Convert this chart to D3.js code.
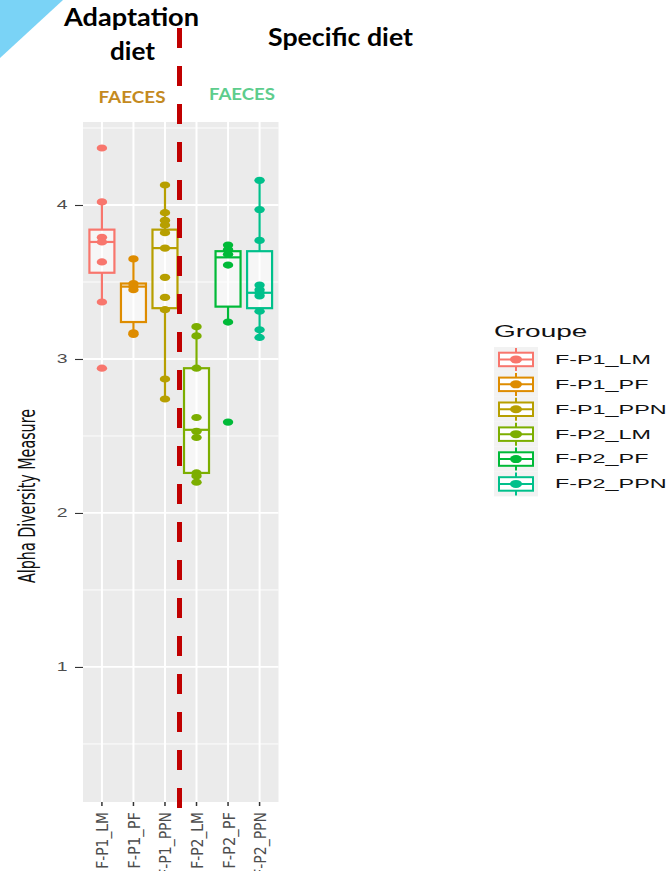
<!DOCTYPE html>
<meta charset="utf-8">
<script src="https://d3js.org/d3.v7.min.js"></script>
<style>
  body { margin: 0; background: #fff; font-family: 'Liberation Sans', Arial, sans-serif; }
</style>
<div id="chart"></div>
<script>
  // groups on the x axis
  var groups = ["F-P1_LM", "F-P1_PF", "F-P1_PPN", "F-P2_LM", "F-P2_PF", "F-P2_PPN"];
  var colors = ["#F8766D", "#DE8C00", "#B79F00", "#7CAE00", "#00BA38", "#00C08B"];

  var pointsLM1  = [4.37, 4.02, 3.79, 3.76, 3.63, 3.37, 2.94];
  var pointsPF1  = [3.65, 3.49, 3.47, 3.45, 3.17, 3.16];
  var pointsPPN1 = [4.13, 3.95, 3.90, 3.87, 3.82, 3.72, 3.53, 3.40, 3.32, 2.87, 2.74];
  var pointsLM2  = [3.21, 3.15, 2.94, 2.62, 2.53, 2.49, 2.26, 2.24, 2.20];
  var pointsPF2  = [3.74, 3.71, 3.68, 3.61, 3.24, 2.59];
  var pointsPPN2 = [4.16, 3.97, 3.77, 3.48, 3.45, 3.43, 3.41, 3.31, 3.19, 3.14];
  var allPoints = [pointsLM1, pointsPF1, pointsPPN1, pointsLM2, pointsPF2, pointsPPN2];

  // box statistics per group
  var whiskLo = [3.37, 3.16, 2.74, 2.20, 3.24, 3.14];
  var q1      = [3.56, 3.24, 3.33, 2.26, 3.34, 3.33];
  var median  = [3.76, 3.47, 3.72, 2.54, 3.66, 3.43];
  var q3      = [3.84, 3.49, 3.84, 2.94, 3.70, 3.70];
  var whiskHi = [4.02, 3.65, 4.13, 3.21, 3.74, 4.16];

  var yTicks = [1, 2, 3, 4];
  var yMinor = [0.5, 1.5, 2.5, 3.5, 4.5];

  var W = 668, H = 871;
  var panel = {left: 83, right: 278.5, top: 122, bottom: 802};

  var svg = d3.select("#chart").append("svg")
    .attr("width", W).attr("height", H);

  // corner decoration
  svg.append("path").attr("d", "M0,0 L63,0 L0,58 Z").attr("fill", "#7AD3F6");

  var x = d3.scalePoint().domain(groups).range([panel.left, panel.right]).padding(0.6);
  var y = d3.scaleLinear().domain([0.123, 4.539]).range([panel.bottom, panel.top]);
  var color = d3.scaleOrdinal().domain(groups).range(colors);

  // panel background + grid
  svg.append("rect")
    .attr("x", panel.left).attr("y", panel.top)
    .attr("width", panel.right - panel.left).attr("height", panel.bottom - panel.top)
    .attr("fill", "#EBEBEB");

  svg.selectAll(".minor").data(yMinor.filter(function(v){ return y(v) > panel.top; })).enter()
    .append("line")
    .attr("x1", panel.left).attr("x2", panel.right)
    .attr("y1", function(d){ return y(d); }).attr("y2", function(d){ return y(d); })
    .attr("stroke", "#fff").attr("stroke-width", 0.9);
  svg.selectAll(".major").data(yTicks).enter()
    .append("line")
    .attr("x1", panel.left).attr("x2", panel.right)
    .attr("y1", function(d){ return y(d); }).attr("y2", function(d){ return y(d); })
    .attr("stroke", "#fff").attr("stroke-width", 1.8);
  svg.selectAll(".vgrid").data(groups).enter()
    .append("line")
    .attr("x1", function(d){ return x(d); }).attr("x2", function(d){ return x(d); })
    .attr("y1", panel.top).attr("y2", panel.bottom)
    .attr("stroke", "#fff").attr("stroke-width", 2);

  // y axis
  var yAxis = svg.append("g")
    .attr("transform", "translate(" + panel.left + ",0)")
    .call(d3.axisLeft(y).tickValues(yTicks).tickSize(8).tickPadding(7).tickFormat(d3.format("d")));
  yAxis.select(".domain").remove();
  yAxis.selectAll(".tick line").attr("stroke", "#333").attr("stroke-width", 1.1);
  yAxis.selectAll(".tick text")
    .attr("fill", "#4D4D4D").style("font-size", "12.5px")
    .attr("transform", "scale(1.55,1)")
    .attr("x", -10);

  svg.append("text")
    .attr("transform", "translate(35,496) rotate(-90)")
    .attr("text-anchor", "middle")
    .attr("textLength", 174).attr("lengthAdjust", "spacingAndGlyphs")
    .style("font-family", "'Liberation Sans Narrow', 'DejaVu Sans Condensed', sans-serif")
    .style("font-size", "23px").attr("fill", "#111")
    .text("Alpha Diversity Measure");

  // x axis ticks + labels
  svg.selectAll(".xtick").data(groups).enter()
    .append("line")
    .attr("x1", function(d){ return x(d); }).attr("x2", function(d){ return x(d); })
    .attr("y1", panel.bottom).attr("y2", panel.bottom + 4)
    .attr("stroke", "#333").attr("stroke-width", 1.5);
  svg.selectAll(".xlab").data(groups).enter()
    .append("text")
    .attr("transform", function(d){ return "translate(" + (x(d) + 1) + "," + (panel.bottom + 10) + ") rotate(-90)"; })
    .attr("text-anchor", "end").attr("dominant-baseline", "central")
    .attr("textLength", function(d){ return d.length * 8.1; }).attr("lengthAdjust", "spacingAndGlyphs")
    .style("font-family", "'Liberation Sans Narrow', 'DejaVu Sans Condensed', sans-serif")
    .style("font-size", "16px").attr("fill", "#4D4D4D")
    .text(function(d){ return d; });

  // boxplots
  var bw = 25;
  var boxes = svg.selectAll(".box").data(groups).enter().append("g")
    .attr("stroke", function(d){ return color(d); })
    .attr("stroke-width", 2.2).attr("fill", "none");
  boxes.append("line")
    .attr("x1", function(d){ return x(d); }).attr("x2", function(d){ return x(d); })
    .attr("y1", function(d, i){ return y(whiskHi[i]); }).attr("y2", function(d, i){ return y(q3[i]); });
  boxes.append("line")
    .attr("x1", function(d){ return x(d); }).attr("x2", function(d){ return x(d); })
    .attr("y1", function(d, i){ return y(q1[i]); }).attr("y2", function(d, i){ return y(whiskLo[i]); });
  boxes.append("rect")
    .attr("x", function(d){ return x(d) - bw / 2; }).attr("width", bw)
    .attr("y", function(d, i){ return y(q3[i]); })
    .attr("height", function(d, i){ return y(q1[i]) - y(q3[i]); })
    .attr("fill", "#fff").attr("fill-opacity", 0.55);
  boxes.append("line")
    .attr("x1", function(d){ return x(d) - bw / 2; }).attr("x2", function(d){ return x(d) + bw / 2; })
    .attr("y1", function(d, i){ return y(median[i]); }).attr("y2", function(d, i){ return y(median[i]); });

  // points
  groups.forEach(function(g, i) {
    svg.selectAll(".pt" + i).data(allPoints[i]).enter()
      .append("ellipse")
      .attr("cx", x(g)).attr("cy", function(d){ return y(d); })
      .attr("rx", 5.2).attr("ry", 3.6)
      .attr("fill", color(g));
  });

  // legend
  var lg = svg.append("g");
  lg.append("text")
    .attr("transform", "translate(494,337) scale(1.75,1)")
    .style("font-size", "16px").attr("fill", "#111")
    .text("Groupe");
  var rows = lg.selectAll(".row").data(groups).enter().append("g")
    .attr("transform", function(d, i){ return "translate(494," + (347 + i * 24.9) + ")"; });
  rows.append("rect").attr("width", 44).attr("height", 24.9).attr("fill", "#F2F2F2");
  rows.append("line")
    .attr("x1", 22).attr("x2", 22).attr("y1", 1).attr("y2", 24)
    .attr("stroke", function(d){ return color(d); }).attr("stroke-width", 2);
  rows.append("rect")
    .attr("x", 5).attr("y", 5.7).attr("width", 34).attr("height", 13.5)
    .attr("fill", "#fff").attr("stroke", function(d){ return color(d); }).attr("stroke-width", 2);
  rows.append("line")
    .attr("x1", 5).attr("x2", 39).attr("y1", 12.45).attr("y2", 12.45)
    .attr("stroke", function(d){ return color(d); }).attr("stroke-width", 2);
  rows.append("ellipse")
    .attr("cx", 22).attr("cy", 12.45).attr("rx", 6).attr("ry", 4)
    .attr("fill", function(d){ return color(d); });
  rows.append("text")
    .attr("transform", "translate(61,16.8) scale(1.9,1)")
    .style("font-size", "12.3px").attr("fill", "#111")
    .text(function(d){ return d; });

  // separation between diets
  svg.append("line")
    .attr("x1", 179.5).attr("x2", 179.5)
    .attr("y1", 28).attr("y2", 812)
    .attr("stroke", "#C00000").attr("stroke-width", 5)
    .attr("stroke-dasharray", "20,18");

  // headings
  function heading(txt, cx, by, len, size, fill) {
    svg.append("text")
      .attr("x", cx).attr("y", by).attr("text-anchor", "middle")
      .attr("textLength", len).attr("lengthAdjust", "spacingAndGlyphs")
      .style("font-family", "Lato, 'Open Sans', sans-serif").style("font-weight", "bold")
      .style("font-size", size + "px").attr("fill", fill)
      .text(txt);
  }
  heading("Adaptation", 131.5, 26, 135, 25, "#000");
  heading("diet", 132.5, 60, 45, 25, "#000");
  heading("Specific diet", 340.5, 46, 145, 25, "#000");
  heading("FAECES", 132, 103, 67, 17, "#C48A1E");
  heading("FAECES", 242, 100, 66, 17, "#5DCD8D");
</script>
